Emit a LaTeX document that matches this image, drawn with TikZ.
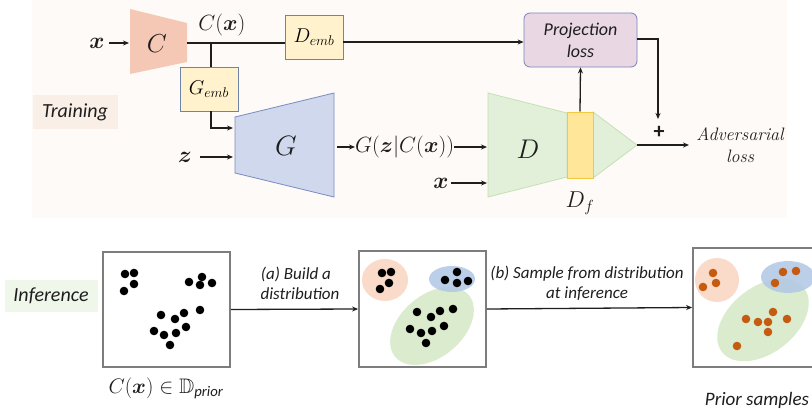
\RequirePackage{fix-cm}
\documentclass[tikz,border=0pt]{standalone}
\usepackage{amsmath,amssymb}
\usepackage{fontspec}
\newfontfamily\calibri{Carlito}
\usetikzlibrary{arrows.meta}
\definecolor{bgtop}{RGB}{253,250,247}
\definecolor{trainbg}{RGB}{250,239,230}
\definecolor{infbg}{RGB}{239,247,234}
\definecolor{Cfill}{RGB}{245,200,182}
\definecolor{Gfill}{RGB}{207,216,236}
\definecolor{Gborder}{RGB}{120,140,195}
\definecolor{embF}{RGB}{255,242,204}
\definecolor{embB}{RGB}{110,130,170}
\definecolor{projF}{RGB}{233,215,227}
\definecolor{projB}{RGB}{125,130,185}
\definecolor{Dfill}{RGB}{226,240,217}
\definecolor{Dborder}{RGB}{197,224,180}
\definecolor{DfF}{RGB}{255,230,153}
\definecolor{DfB}{RGB}{242,200,60}
\definecolor{panelB}{RGB}{125,125,125}
\definecolor{ellO}{RGB}{250,218,200}
\definecolor{ellB}{RGB}{176,199,228}
\definecolor{ellG}{RGB}{218,235,206}
\definecolor{dotO}{RGB}{197,90,17}
\definecolor{ink}{RGB}{30,30,30}
\begin{document}
\begin{tikzpicture}[x=1pt,y=-1pt,
  ln/.style={draw=ink, line width=1.3pt},
  arr/.style={draw=ink, line width=1.3pt, -{Stealth[length=6pt,width=5pt]}},
  emb/.style={draw=embB, fill=embF, line width=0.8pt, minimum width=58pt, minimum height=44pt, inner sep=0pt, font=\fontsize{20}{22}\selectfont},
  sanslbl/.style={font=\calibri\itshape\fontsize{17}{20}\selectfont, text=ink, align=center, inner sep=0pt},
  mathlbl/.style={font=\fontsize{22}{24}\selectfont, text=ink, inner sep=0pt},
  panel/.style={draw=panelB, line width=1.8pt, fill=white},
  bdot/.style={fill=black},
  odot/.style={fill=dotO}
]
\useasboundingbox (0,0) rectangle (812,415);
% top background
\fill[bgtop] (32,0) rectangle (787,218);
% Training label
\node[fill=trainbg, minimum width=85pt, minimum height=34pt, inner sep=0pt, font=\calibri\itshape\fontsize{20}{22}\selectfont, text=ink] (train) at (75,112) {Training};

% C encoder
\fill[Cfill] (130,9) -- (187,23) -- (187,62) -- (130,74) -- cycle;
\node[mathlbl, font=\fontsize{26}{28}\selectfont] (C) at (157,44) {$C$};
\coordinate (Cl) at (129,43);
\coordinate (Cr) at (187,43);
\node[mathlbl, font=\fontsize{23}{25}\selectfont] (xin) at (97,43) {$\boldsymbol{x}$};
\draw[arr] (xin.east) ++(4,0) -- (Cl);
\node[mathlbl] (Cx) at (222,25) {$C(\boldsymbol{x})$};

% embeddings
\node[emb] (demb) at (314,37) {$D_{emb}$};
\node[emb] (gemb) at (209,89) {$G_{emb}$};
\coordinate (j) at (211,43);
\draw[ln] (Cr) -- (Cr -| demb.west);
\draw[ln] (j) -- (j |- gemb.north);

% projection loss
\node[draw=projB, fill=projF, line width=0.8pt, rounded corners=6pt, minimum width=113pt, minimum height=54pt, inner sep=0pt, font=\calibri\itshape\fontsize{18}{22}\selectfont, text=ink, align=center] (proj) at (580.5,40) {Projection\\loss};
\draw[arr] (demb.east |- 0,42) -- (proj.west |- 0,42);

% G generator
\filldraw[fill=Gfill, draw=Gborder, line width=0.8pt] (235,117) -- (334,93) -- (334,197) -- (235,173) -- cycle;
\node[mathlbl, font=\fontsize{28}{30}\selectfont] (G) at (286,146) {$G$};
\coordinate (Gin1) at (233,128);
\coordinate (Gin2) at (233,157);
\draw[arr] (gemb.south -| j) |- (Gin1);
\node[mathlbl, font=\fontsize{23}{25}\selectfont] (z) at (185,157) {$\boldsymbol{z}$};
\draw[arr] (200,157) -- (Gin2);
\node[mathlbl, anchor=west] (Gout) at (355,147) {$G(\boldsymbol{z}|C(\boldsymbol{x}))$};
\draw[arr] (337,147) -- (Gout.west);

% D discriminator
\filldraw[fill=Dfill, draw=Dborder, line width=0.8pt] (488,93) -- (567,113) -- (567,177) -- (488,197) -- cycle;
\filldraw[fill=Dfill, draw=Dborder, line width=0.8pt] (593,112) -- (637,145) -- (593,178) -- cycle;
\node[draw=DfB, fill=DfF, line width=1pt, minimum width=26pt, minimum height=66pt, inner sep=0pt] (Df) at (580,145) {};
\node[mathlbl, font=\fontsize{27}{29}\selectfont] (D) at (528,149) {$D$};
\node[mathlbl, font=\fontsize{23}{25}\selectfont] (Dflbl) at (580,203) {$D_f$};
\coordinate (Din1) at (487,147);
\coordinate (Din2) at (487,183);
\draw[arr] (Gout.east) -- (Din1);
\node[mathlbl, font=\fontsize{23}{25}\selectfont] (x2) at (441,183) {$\boldsymbol{x}$};
\draw[arr] (451,183) -- (Din2);
\draw[arr] (Df.north) -- (proj.south);

% losses
\coordinate (apex) at (637,145);
\coordinate (plusin) at (658,119);
\draw[arr] (proj.east |- 0,39) -| (plusin);
\node[text=ink, inner sep=0pt, font=\calibri\bfseries\fontsize{22}{24}\selectfont] (plus) at (659,132) {+};
\node[font=\itshape\fontsize{18}{22}\selectfont, text=ink, align=center, inner sep=0pt] (adv) at (740,145) {Adversarial\\loss};
\draw[arr] (apex) -- (689,145);

% ===== Inference =====
\node[fill=infbg, minimum width=93pt, minimum height=32pt, inner sep=0pt, font=\calibri\itshape\fontsize{20}{22}\selectfont, text=ink] (inf) at (51,296) {Inference};

\node[panel, minimum width=127pt, minimum height=115pt, inner sep=0pt] (p1) at (166.5,309.5) {};
\node[panel, minimum width=127pt, minimum height=116pt, inner sep=0pt] (p2) at (422.5,309) {};
\node[panel, minimum width=137pt, minimum height=119pt, inner sep=0pt] (p3) at (761.5,307.5) {};

% panel 1 dots
\foreach \px/\py in {125/274,134/273,134/284,124/291,189/282,202/277,200/285,212/283,200/310,161/315,175/319,184/313,186/327,176/333,154/331,164/335,170/345}
  \fill[bdot] (\px,\py) circle (4.3pt);

% panel 2 ellipses and dots
\fill[ellG] (432,326) ellipse [x radius=48pt, y radius=31pt, rotate=40];
\fill[ellO] (385,280) ellipse [x radius=23pt, y radius=21pt];
\fill[ellB, opacity=0.85] (452,279) ellipse [x radius=23pt, y radius=13pt];
\foreach \px/\py in {382/273,391/272,389/283,380/289,457/272,445/280,457/283,468/281,417/312,431/317,440/311,453/309,444/326,432/331,410/329,421/333,426/343}
  \fill[bdot] (\px,\py) circle (4.3pt);

% panel 3 ellipses and dots
\fill[ellG] (763,320) ellipse [x radius=52pt, y radius=33pt, rotate=38];
\fill[ellO] (717,280) ellipse [x radius=22pt, y radius=22pt];
\fill[ellB, opacity=0.85] (788,277) ellipse [x radius=27pt, y radius=16pt];
\foreach \px/\py in {713/273,703/287,716/283,783/272,796/271,775/283,773/312,746/319,758/322,768/322,787/319,768/332,737/346}
  \fill[odot] (\px,\py) circle (4.3pt);

% arrows between panels
\draw[arr] (p1.east) -- (p2.west);
\draw[arr] (p2.east) -- (p3.west);
\node[sanslbl] (la) at (296,283) {(a) Build a\\\hspace*{8pt}distribution};
\node[sanslbl] (lb) at (587,283) {(b) Sample from distribution\\at inference};

\node[font=\fontsize{21}{23}\selectfont, text=ink, inner sep=0pt] (cx) at (166,388) {$C(\boldsymbol{x})\in\mathbb{D}_{\text{\calibri\itshape prior}}$};
\node[sanslbl, font=\calibri\itshape\fontsize{19}{22}\selectfont] (prior) at (757,400) {Prior samples};
\end{tikzpicture}
\end{document}
